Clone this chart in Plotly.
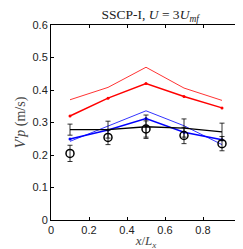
import plotly.graph_objects as go

x = [0.1, 0.3, 0.5, 0.7, 0.9]
red_thin = [0.370, 0.408, 0.470, 0.406, 0.368]
red_thick = [0.320, 0.375, 0.420, 0.380, 0.345]
blue_thin = [0.242, 0.290, 0.336, 0.290, 0.232]
blue_thick = [0.249, 0.277, 0.312, 0.270, 0.247]
black = [0.278, 0.278, 0.287, 0.283, 0.271]
black_err = [0.017, 0.026, 0.036, 0.028, 0.027]
exp = [0.205, 0.254, 0.280, 0.260, 0.235]
exp_err = [0.025, 0.022, 0.025, 0.025, 0.022]
x_ticks = [0, 0.2, 0.4, 0.6, 0.8, 1]
x_ticklabels = ["0", "0.2", "0.4", "0.6", "0.8", "1"]
y_ticks = [0, 0.1, 0.2, 0.3, 0.4, 0.5, 0.6]
y_ticklabels = ["0", "0.1", "0.2", "0.3", "0.4", "0.5", "0.6"]

fig = go.Figure()
fig.add_trace(go.Scatter(x=x, y=red_thin, mode="lines",
                         line=dict(color="#ff0000", width=0.8)))
fig.add_trace(go.Scatter(x=x, y=red_thick, mode="lines+markers",
                         line=dict(color="#ff0000", width=1.5),
                         marker=dict(size=3, color="#ff0000")))
fig.add_trace(go.Scatter(x=x, y=blue_thin, mode="lines",
                         line=dict(color="#0000ff", width=0.8)))
fig.add_trace(go.Scatter(x=x, y=blue_thick, mode="lines+markers",
                         line=dict(color="#0000ff", width=1.5),
                         marker=dict(size=3, color="#0000ff")))
fig.add_trace(go.Scatter(x=x, y=black, mode="lines",
                         line=dict(color="black", width=1.3),
                         error_y=dict(type="data", array=black_err, color="black",
                                      thickness=0.8, width=2.5)))
fig.add_trace(go.Scatter(x=x, y=exp, mode="markers",
                         marker=dict(symbol="circle-open", size=8, color="black",
                                     line=dict(width=1.5, color="black")),
                         error_y=dict(type="data", array=exp_err, color="black",
                                      thickness=0.8, width=2.5)))

serif = "Liberation Serif, Times New Roman"
axis_common = dict(showgrid=False, zeroline=False, showline=True, linecolor="black",
                   linewidth=1, mirror="ticks", ticks="inside", ticklen=3,
                   tickcolor="black", tickwidth=0.8, ticklabeloverflow="allow",
                   tickfont=dict(family="Liberation Sans, Arial", size=11, color="#222"))
fig.update_xaxes(range=[0, 1], tickvals=x_ticks, ticktext=x_ticklabels, **axis_common,
                 title=dict(text="<i>x</i>/<i>L<sub>x</sub></i>",
                            font=dict(family=serif, size=13, color="#444"),
                            standoff=0))
fig.update_yaxes(range=[0, 0.6], tickvals=y_ticks, ticktext=y_ticklabels, **axis_common,
                 title=dict(text="<i>V'p</i> (m/s)",
                            font=dict(family=serif, size=14, color="#444"),
                            standoff=3))
fig.update_layout(
    width=243, height=249,
    margin=dict(l=43, r=7, t=17, b=37),
    paper_bgcolor="white", plot_bgcolor="white",
    showlegend=False,
    title=dict(text="SSCP-I, <i>U</i> = 3<i>U<sub>mf</sub></i>",
               font=dict(family=serif, size=13.5, color="#222"),
               x=0.585, xanchor="center", y=0.995, yanchor="top"),
)
fig.write_html("out.html")
